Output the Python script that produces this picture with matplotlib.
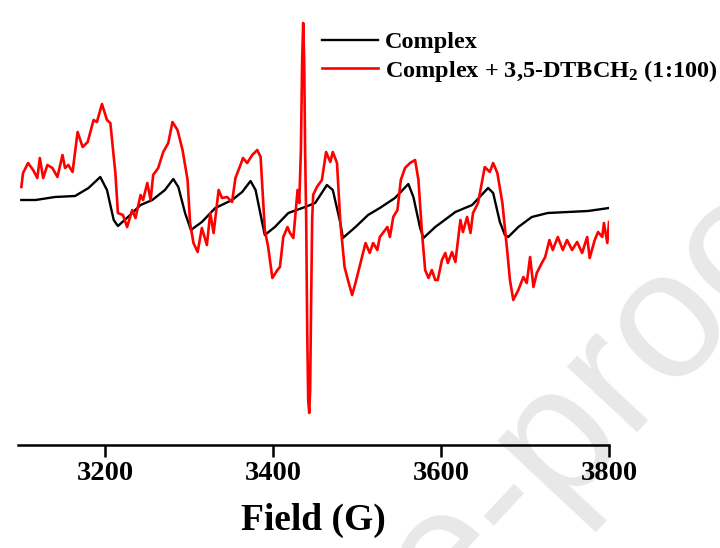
import numpy as np
import matplotlib
matplotlib.use("Agg")
import matplotlib.pyplot as plt

plt.rcParams.update({
    "font.family": ["Liberation Serif", "DejaVu Serif"],
    "font.weight": "bold",
    "mathtext.fontset": "custom",
    "mathtext.rm": "Liberation Serif:bold",
    "mathtext.bf": "Liberation Serif:bold",
    "mathtext.it": "Liberation Serif:bold",
})

# EPR spectrum of the complex alone (field in G, intensity in a.u.)
field_complex = [3100, 3117, 3140, 3164, 3180, 3194, 3202, 3210, 3215, 3227,
                 3242, 3256, 3271, 3281, 3287, 3295, 3302, 3315, 3331, 3351,
                 3363, 3373, 3379, 3387, 3390, 3402, 3418, 3438, 3450, 3464,
                 3471, 3480, 3483, 3498, 3513, 3527, 3545, 3561, 3567, 3575,
                 3579, 3593, 3617, 3637, 3656, 3662, 3670, 3676, 3680, 3692,
                 3708, 3727, 3751, 3775, 3800]
int_complex = [5, 5, 8, 9, 17, 28, 15, -15, -21, -12,
               0, 5, 15, 26, 18, -8, -25, -17, -3, 5,
               13, 24, 15, -18, -30, -22, -8, -2, 2, 20,
               15, -18, -33, -22, -10, -3, 7, 21, 8, -23,
               -33, -22, -7, 0, 17, 12, -17, -30, -32, -22,
               -12, -8, -7, -6, -3]

# Complex + 3,5-DTBCH2 (1:100)
field_mix = [3100, 3102, 3108, 3114, 3119, 3122, 3126, 3131, 3137, 3143,
             3149, 3152, 3156, 3161, 3167, 3173, 3179, 3186, 3190, 3196,
             3202, 3206, 3212, 3215, 3221, 3226, 3232, 3236, 3242, 3245,
             3250, 3254, 3257, 3263, 3269, 3275, 3280, 3286, 3292, 3298,
             3301, 3305, 3310, 3315, 3321, 3325, 3329, 3335, 3339, 3345,
             3351, 3355, 3361, 3364, 3369, 3375, 3381, 3385, 3390, 3394,
             3399, 3405, 3408, 3412, 3417, 3420, 3424, 3429, 3431, 3433,
             3434.5, 3435.7, 3436.9, 3438, 3439.3, 3440.5, 3441.7, 3442.9, 3444, 3445.2,
             3446.4, 3447.6, 3452, 3458, 3463, 3468, 3471, 3476, 3480, 3485,
             3489, 3494, 3498, 3504, 3510, 3515, 3519, 3524, 3527, 3536,
             3539, 3543, 3548, 3552, 3557, 3563, 3569, 3573, 3577, 3581,
             3585, 3589, 3593, 3596, 3601, 3605, 3608, 3613, 3617, 3623,
             3626, 3631, 3635, 3638, 3644, 3652, 3658, 3662, 3667, 3673,
             3679, 3682, 3686, 3692, 3698, 3702, 3706, 3710, 3714, 3720,
             3724, 3729, 3733, 3739, 3745, 3750, 3756, 3762, 3768, 3774,
             3777, 3783, 3787, 3792, 3794, 3798, 3800]
int_mix = [18, 32, 42, 35, 27, 47, 27, 40, 37, 28,
           50, 37, 40, 33, 73, 58, 63, 85, 83, 101,
           85, 82, 32, -8, -10, -22, -5, -13, 10, 5,
           22, 5, 30, 37, 53, 62, 83, 75, 55, 25,
           -18, -38, -47, -23, -40, -8, -28, 15, 7, 8,
           3, 27, 40, 47, 42, 50, 55, 48, -25, -42,
           -73, -65, -62, -32, -22, -28, -33, 15, 2, 55,
           145, 182, 145, 55, -15, -125, -195, -208, -185, -95,
           -15, 10, 18, 25, 53, 43, 53, 42, -18, -62,
           -75, -90, -78, -58, -38, -48, -38, -45, -32, -22,
           -32, -12, -5, 25, 37, 42, 45, 25, -25, -65,
           -73, -65, -75, -75, -55, -48, -58, -47, -57, -15,
           -27, -12, -28, -8, 2, 38, 33, 42, 32, 2,
           -48, -75, -95, -85, -72, -78, -52, -82, -68, -58,
           -52, -35, -45, -32, -45, -35, -45, -37, -48, -32,
           -53, -35, -27, -32, -18, -38, -17]

xticks = [3200, 3400, 3600, 3800]

fig = plt.figure(figsize=(7.2, 5.48), dpi=100)
ax = fig.add_axes([18 / 720, 1 - 445 / 548, 591 / 720, 430 / 548])
ax.set_facecolor("none")

# faint journal watermark behind everything (anchored on the "p" bowl)
rot = 47
theta = np.deg2rad(rot)
em = 182
px, py = 565, 440
xoff, yoff = 5.766 * em, 0.26 * em
x0 = px - xoff * np.cos(theta) + yoff * np.sin(theta)
y0 = py + xoff * np.sin(theta) + yoff * np.cos(theta)
fig.text(x0 / 720, 1 - y0 / 548, "Journal Pre-proof", rotation=rot,
         rotation_mode="anchor", ha="left", va="baseline",
         fontsize=em * 0.72, family="Liberation Sans", fontweight="normal",
         color="#e8e8e8", zorder=-1)

ax.plot(field_complex, int_complex, color="black", lw=1.7, label="Complex")
ax.plot(field_mix, int_mix, color="#ff0000", lw=1.9,
        label="Complex + 3,5-DTBCH$_2$ (1:100)")

ax.set_xlim(3096, 3800)
ax.set_ylim(-240, 190)
ax.set_xticks(xticks)
ax.set_yticks([])
for s in ["top", "right", "left"]:
    ax.spines[s].set_visible(False)
ax.spines["bottom"].set_linewidth(1.8)
ax.tick_params(axis="x", direction="out", length=8.5, width=1.8,
               labelsize=20.5, pad=3)
ax.set_xlabel("Field (G)", fontsize=27, fontweight="bold", labelpad=12)

fig.legend(loc="upper left", bbox_to_anchor=(322 / 720, 1 - 31 / 548),
           frameon=False, fontsize=17.5, handlelength=2.3, handletextpad=0.3,
           labelspacing=0.2, borderpad=0, borderaxespad=0)

fig.savefig("out.png", dpi=100)
